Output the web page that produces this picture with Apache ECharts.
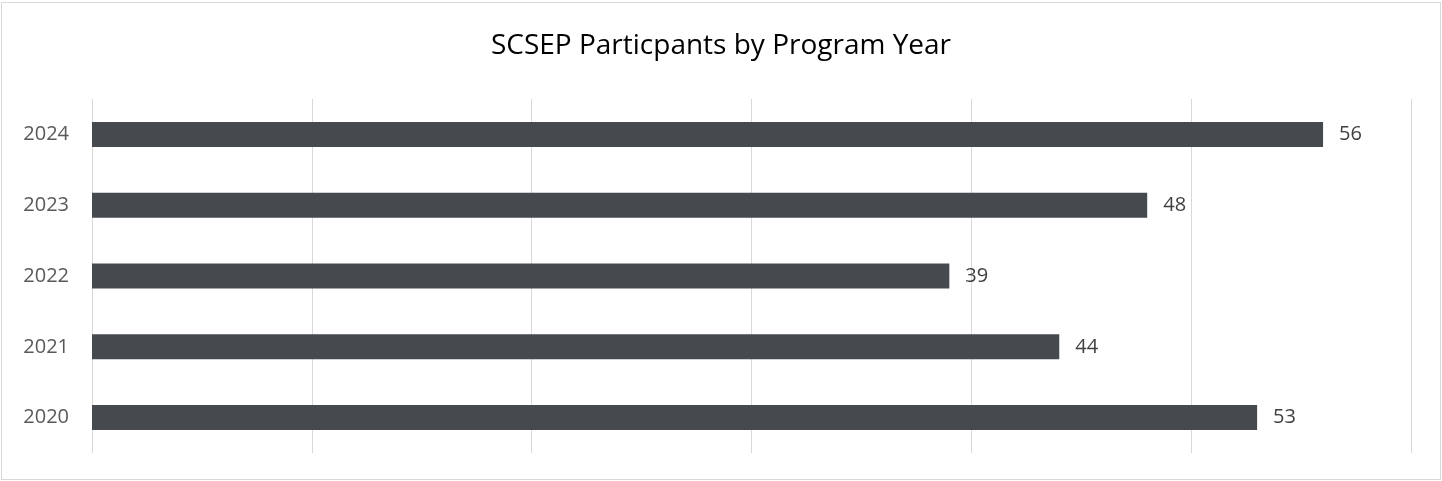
<!DOCTYPE html>
<html>
<head>
<meta charset="utf-8">
<script src="https://cdn.jsdelivr.net/npm/echarts@6/dist/echarts.min.js"></script>
<style>
    html, body { margin: 0; padding: 0; background: #fff; }
    #chart { position: absolute; left: 1px; top: 2px; width: 1438px; height: 476px; border: 1px solid #d9d9d9; }
</style>
</head>
<body>
<div id="chart"></div>
<script>
const years = ['2020', '2021', '2022', '2023', '2024'];
const participants = [53, 44, 39, 48, 56];
const xTicks = [0, 10, 20, 30, 40, 50, 60];

const chart = echarts.init(document.getElementById('chart'));

const option = {
    title: {
        text: 'SCSEP Particpants by Program Year',
        left: 'center',
        top: 24,
        textStyle: {
            fontFamily: 'Open Sans',
            fontSize: 28,
            fontWeight: 'normal',
            color: '#000'
        }
    },
    grid: {
        left: 90,
        right: 29,
        top: 96,
        bottom: 26
    },
    xAxis: {
        type: 'value',
        min: xTicks[0],
        max: xTicks[xTicks.length - 1],
        interval: 10,
        axisLabel: { show: false },
        axisLine: { show: false },
        axisTick: { show: false },
        splitLine: { lineStyle: { color: '#d9d9d9', width: 1 } }
    },
    yAxis: {
        type: 'category',
        data: years,
        axisLine: { show: false },
        axisTick: { show: false },
        axisLabel: {
            margin: 23,
            fontFamily: 'Open Sans',
            fontSize: 20,
            color: '#595959'
        }
    },
    series: [{
        type: 'bar',
        data: participants,
        barWidth: 25,
        itemStyle: { color: '#464a4e' },
        label: {
            show: true,
            position: 'right',
            distance: 16,
            fontFamily: 'Open Sans',
            fontSize: 20,
            color: '#404040'
        }
    }]
};

chart.setOption(option);
window.onresize = function () {
    chart.resize();
};
</script>
</body>
</html>
